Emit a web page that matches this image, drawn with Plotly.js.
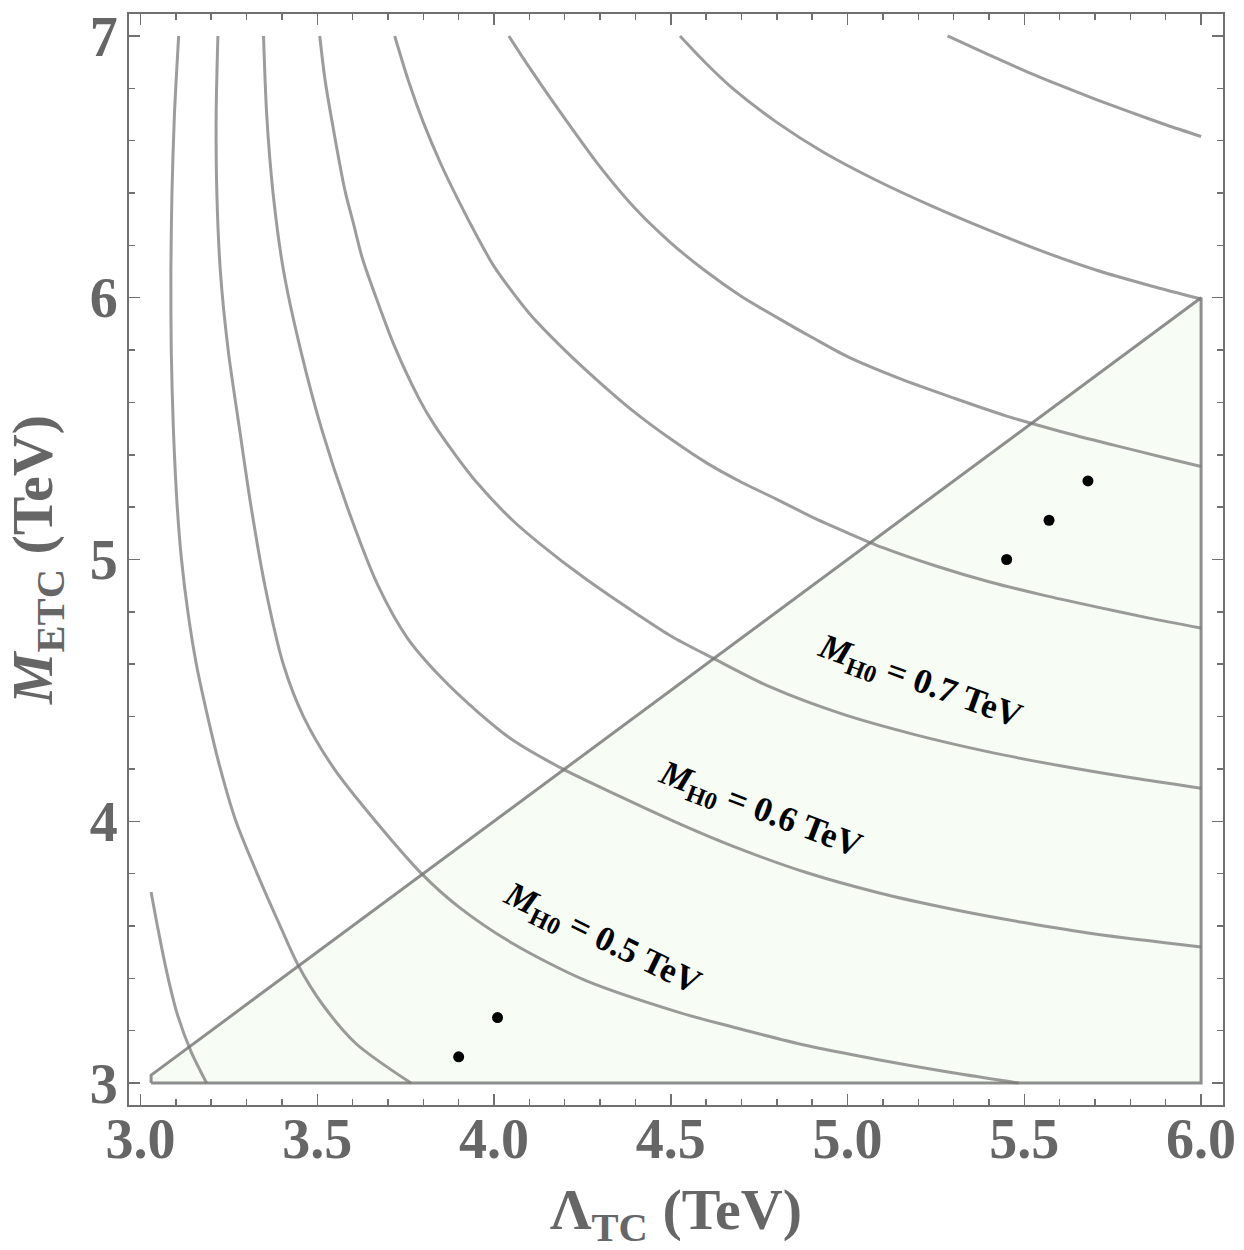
<!DOCTYPE html>
<html>
<head>
<meta charset="utf-8">
<script src="https://cdn.plot.ly/plotly-3.0.1.min.js"></script>
<style>
  html, body { margin: 0; padding: 0; background: #ffffff; }
  #chart { width: 1244px; height: 1250px; }
</style>
</head>
<body>
<div id="chart"></div>
<script>
// ---- allowed region (M_ETC >= Lambda_TC strip) ----
const regionX = [3.03, 3.03, 6.0, 6.0, 3.03];
const regionY = [3.0, 3.03, 6.0, 3.0, 3.0];

// ---- contour curves of constant M_H0 ----
const curve1X = [3.030, 3.050, 3.075, 3.103, 3.143, 3.187];
const curve1Y = [3.730, 3.585, 3.420, 3.268, 3.120, 3.000];

const curve2X = [3.108, 3.096, 3.089, 3.086, 3.087, 3.093, 3.104, 3.116, 3.134, 3.158, 3.190, 3.226, 3.270, 3.330, 3.395, 3.446, 3.515, 3.610, 3.765];
const curve2Y = [7.000, 6.700, 6.400, 6.100, 5.800, 5.500, 5.200, 5.000, 4.800, 4.600, 4.400, 4.200, 4.000, 3.800, 3.600, 3.450, 3.300, 3.150, 3.000];

const curve3X = [3.219, 3.214, 3.216, 3.226, 3.248, 3.280, 3.313, 3.352, 3.404, 3.461, 3.548, 3.665, 3.795, 3.901, 4.053, 4.255, 4.525, 4.675, 4.881, 5.087, 5.293, 5.484];
const curve3Y = [7.000, 6.700, 6.400, 6.100, 5.800, 5.500, 5.200, 4.900, 4.600, 4.400, 4.200, 4.000, 3.800, 3.672, 3.533, 3.394, 3.269, 3.214, 3.144, 3.089, 3.040, 3.000];

const curve4X = [3.348, 3.357, 3.375, 3.405, 3.453, 3.512, 3.585, 3.672, 3.755, 3.850, 3.952, 4.053, 4.194, 4.356, 4.525, 4.675, 4.881, 5.087, 5.293, 5.499, 5.705, 6.000];
const curve4Y = [7.000, 6.700, 6.400, 6.100, 5.800, 5.500, 5.200, 4.900, 4.700, 4.550, 4.420, 4.310, 4.200, 4.095, 3.990, 3.905, 3.805, 3.727, 3.665, 3.613, 3.568, 3.520];

const curve5X = [3.507, 3.522, 3.545, 3.578, 3.603, 3.628, 3.669, 3.719, 3.790, 3.830, 3.891, 3.952, 4.053, 4.130, 4.255, 4.406, 4.500, 4.618, 4.778, 4.984, 5.190, 5.396, 5.602, 5.808, 6.000];
const curve5Y = [7.000, 6.833, 6.649, 6.412, 6.280, 6.149, 5.991, 5.813, 5.609, 5.517, 5.399, 5.293, 5.149, 5.060, 4.930, 4.790, 4.708, 4.624, 4.515, 4.410, 4.331, 4.266, 4.212, 4.165, 4.126];

const curve6X = [3.719, 3.760, 3.800, 3.850, 3.900, 3.950, 4.000, 4.100, 4.200, 4.300, 4.400, 4.500, 4.600, 4.700, 4.800, 4.900, 5.000, 5.100, 5.250, 5.400, 5.550, 5.700, 5.850, 6.000];
const curve6Y = [7.000, 6.820, 6.670, 6.510, 6.370, 6.240, 6.120, 5.940, 5.800, 5.675, 5.560, 5.460, 5.370, 5.295, 5.230, 5.162, 5.102, 5.045, 4.975, 4.915, 4.865, 4.820, 4.777, 4.738];

const curve7X = [4.042, 4.100, 4.200, 4.300, 4.400, 4.500, 4.600, 4.700, 4.800, 4.900, 5.000, 5.150, 5.300, 5.450, 5.600, 5.750, 5.900, 6.000];
const curve7Y = [7.000, 6.880, 6.685, 6.500, 6.340, 6.210, 6.100, 6.005, 5.925, 5.848, 5.775, 5.690, 5.617, 5.548, 5.490, 5.438, 5.388, 5.355];

const curve8X = [4.526, 4.600, 4.675, 4.800, 4.933, 5.087, 5.242, 5.396, 5.550, 5.705, 5.859, 6.000];
const curve8Y = [7.000, 6.895, 6.800, 6.670, 6.555, 6.445, 6.348, 6.260, 6.178, 6.105, 6.045, 5.995];

const curve9X = [5.283, 5.400, 5.500, 5.600, 5.700, 5.800, 5.900, 6.000];
const curve9Y = [7.000, 6.928, 6.868, 6.812, 6.759, 6.709, 6.661, 6.616];

// ---- benchmark points ----
const pointX = [3.90, 4.01, 5.45, 5.57, 5.68];
const pointY = [3.10, 3.25, 5.00, 5.15, 5.30];

// ---- contour labels ----
const labelText = ['0.5', '0.6', '0.7'];
const labelX = [4.305, 4.752, 5.205];
const labelY = [3.548, 4.040, 4.532];
const labelAngle = [26, 21, 20];

// ---- axes ----
const xTickVals = [3.0, 3.5, 4.0, 4.5, 5.0, 5.5, 6.0];
const xTickText = ['3.0', '3.5', '4.0', '4.5', '5.0', '5.5', '6.0'];
const yTickVals = [3, 4, 5, 6, 7];
const yTickText = ['3', '4', '5', '6', '7'];

const curvesX = [curve1X, curve2X, curve3X, curve4X, curve5X, curve6X, curve7X, curve8X, curve9X];
const curvesY = [curve1Y, curve2Y, curve3Y, curve4Y, curve5Y, curve6Y, curve7Y, curve8Y, curve9Y];

const serif = 'Liberation Serif, Times New Roman, serif';
const grayText = '#666666';
const frameColor = '#707070';

const traces = [];
traces.push({
  x: regionX, y: regionY, type: 'scatter', mode: 'lines',
  fill: 'toself', fillcolor: 'rgb(247,252,245)',
  line: { color: 'rgba(95,95,95,0.7)', width: 3 },
  hoverinfo: 'skip', showlegend: false
});
for (let i = 0; i < curvesX.length; i++) {
  traces.push({
    x: curvesX[i], y: curvesY[i], type: 'scatter', mode: 'lines',
    line: { color: 'rgba(118,118,118,0.72)', width: 3, shape: 'spline', smoothing: 0.8 },
    hoverinfo: 'skip', showlegend: false
  });
}
traces.push({
  x: pointX, y: pointY, type: 'scatter', mode: 'markers',
  marker: { color: '#000000', size: 11 },
  showlegend: false
});

const annotations = labelText.map((t, i) => ({
  x: labelX[i], y: labelY[i], xref: 'x', yref: 'y',
  text: '<i>M</i><sub>H0</sub> = ' + t + ' TeV',
  showarrow: false, textangle: labelAngle[i],
  xanchor: 'center', yanchor: 'middle',
  font: { family: serif, size: 35, color: '#000000', weight: 'bold' }
}));

const axisCommon = {
  showgrid: false, zeroline: false,
  showline: true, linecolor: frameColor, linewidth: 2, mirror: 'ticks',
  ticks: 'inside', tickcolor: frameColor, tickwidth: 1.5, ticklen: 11,
  tickfont: { family: serif, size: 56, color: grayText, weight: 'bold' },
  fixedrange: true
};

const layout = {
  width: 1244, height: 1250,
  margin: { l: 129, r: 21, t: 14, b: 145 },
  paper_bgcolor: '#ffffff', plot_bgcolor: '#ffffff',
  showlegend: false,
  xaxis: Object.assign({}, axisCommon, {
    range: [2.9675, 6.062],
    tickmode: 'array', tickvals: xTickVals, ticktext: xTickText,
    minor: { dtick: 0.1, tick0: 3.0, ticks: 'inside', ticklen: 6, tickcolor: frameColor, tickwidth: 1.5 },
    ticklabelstandoff: -16,
    title: { text: 'Λ<sub>TC</sub> (TeV)', font: { family: serif, size: 58, color: grayText, weight: 'bold' }, standoff: 32 }
  }),
  yaxis: Object.assign({}, axisCommon, {
    range: [2.916, 7.084],
    tickmode: 'array', tickvals: yTickVals, ticktext: yTickText,
    minor: { dtick: 0.2, tick0: 3.0, ticks: 'inside', ticklen: 6, tickcolor: frameColor, tickwidth: 1.5 },
    ticklabelstandoff: -2,
    title: { text: '<i>M</i><sub>ETC</sub> (TeV)', font: { family: serif, size: 58, color: grayText, weight: 'bold' }, standoff: 26 }
  }),
  annotations: annotations
};

Plotly.newPlot('chart', traces, layout, { displayModeBar: false, staticPlot: true });
</script>
</body>
</html>
